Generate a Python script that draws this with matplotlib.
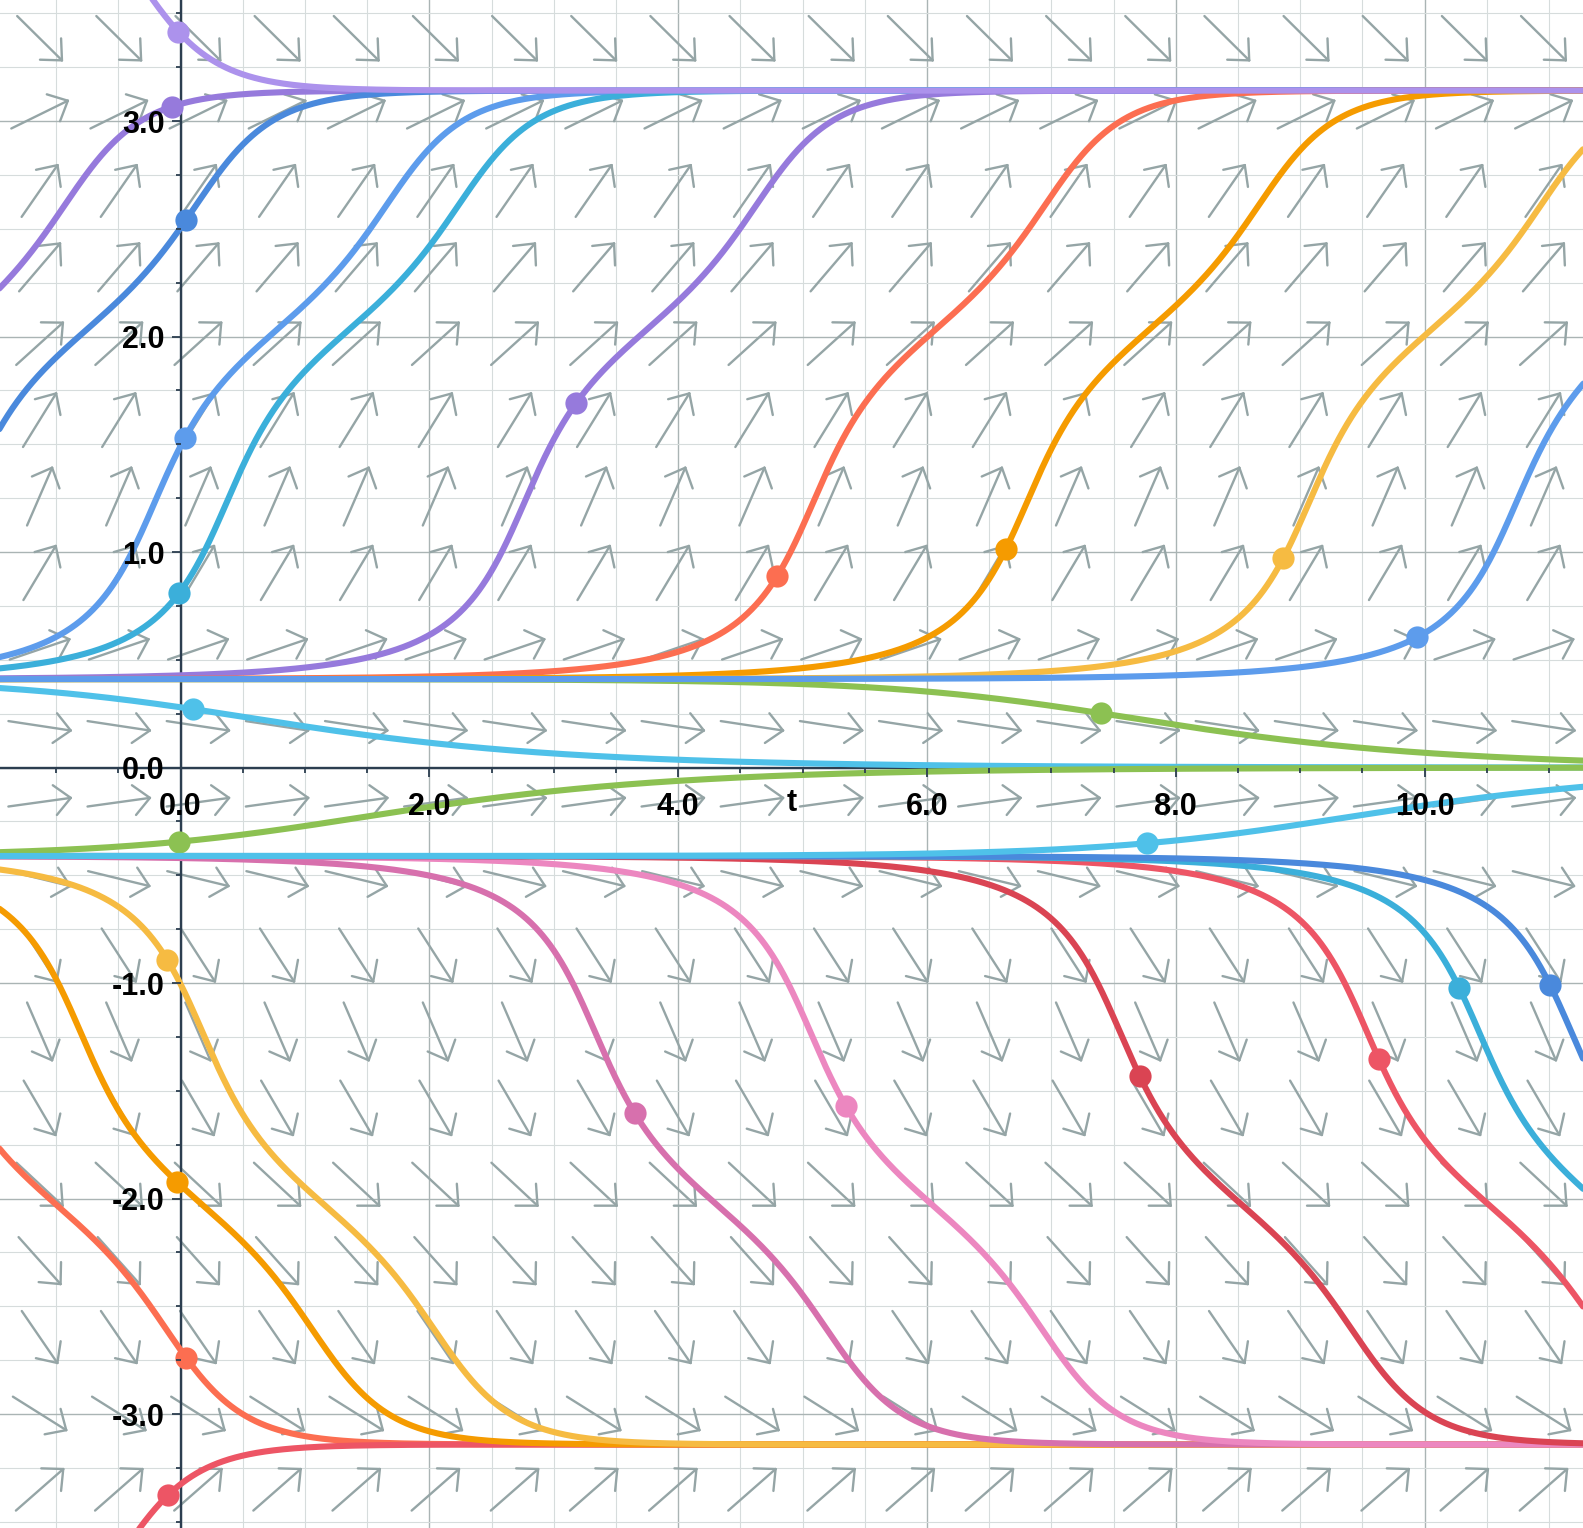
import numpy as np
import matplotlib
matplotlib.use("Agg")
import matplotlib.pyplot as plt
from matplotlib.collections import LineCollection
from matplotlib.ticker import FixedLocator, FixedFormatter, MultipleLocator

plt.rcParams["font.family"] = ["Liberation Sans", "DejaVu Sans"]
plt.rcParams["font.weight"] = "bold"

# ---- model read from the slope field: dy/dt = sin(y) - K*sin(M*y)
K = 0.4
M = 4

# ---- view window
x_min, x_max = -1.451, 11.274
y_min, y_max = -3.529, 3.562

# ---- solution curves: initial points (dots) and colours, in drawing order
dot_t = [0.044, -0.103, -0.026, -0.106, 3.651, 5.347, 7.710, 9.634, 10.28, 11.009,
         0.103, 7.400, -0.012, 7.772,
         -0.071, 0.044, 0.036, -0.012, 3.179, 4.797, 6.633, 8.864, 9.942, -0.018]
dot_y = [-2.738, -3.378, -1.924, -0.893, -1.604, -1.570, -1.431, -1.354, -1.024, -1.009,
         0.271, 0.252, -0.344, -0.351,
         3.067, 2.541, 1.531, 0.809, 1.690, 0.889, 1.013, 0.971, 0.605, 3.415]
curve_colors = ["#fc6e51", "#ed5565", "#f59b00", "#f6bb42", "#d770ad", "#ec87c0",
                "#da4453", "#ed5565", "#3bafda", "#4a89dc",
                "#4fc1e9", "#8cc152", "#8cc152", "#4fc1e9",
                "#967adc", "#4a89dc", "#5d9cec", "#3bafda", "#967adc", "#fc6e51",
                "#f59b00", "#f6bb42", "#5d9cec", "#ac92ec"]

x_tick_vals = [0, 2, 4, 6, 8, 10]
x_tick_labels = ["0.0", "2.0", "4.0", "6.0", "8.0", "10.0"]
y_tick_vals = [-3, -2, -1, 0, 1, 2, 3]
y_tick_labels = ["-3.0", "-2.0", "-1.0", "0.0", "1.0", "2.0", "3.0"]
axis_label = "t"

N_ARROWS = 20


def rhs(y):
    return np.sin(y) - K * np.sin(M * y)


def integrate(t0, y0, t_end, h=0.005):
    h = h if t_end > t0 else -h
    ts, ys = [t0], [y0]
    t, y = t0, y0
    while (t_end - t) * np.sign(h) > 0 and abs(y) < 4.5:
        k1 = rhs(y)
        k2 = rhs(y + 0.5 * h * k1)
        k3 = rhs(y + 0.5 * h * k2)
        k4 = rhs(y + h * k3)
        y = y + h * (k1 + 2 * k2 + 2 * k3 + k4) / 6.0
        t = t + h
        ts.append(t)
        ys.append(y)
    return np.array(ts), np.array(ys)


W, H = 1583, 1528
fig = plt.figure(figsize=(W / 100, H / 100), dpi=100)
ax = fig.add_axes([0, 0, 1, 1])
ax.set_xlim(x_min, x_max)
ax.set_ylim(y_min, y_max)
fig.patch.set_facecolor("white")

sx = W / (x_max - x_min)   # pixels per unit
sy = H / (y_max - y_min)

# ---- grid
minor_c, major_c = "#d6dcdc", "#aab4b4"
for gx in np.arange(-1.0, 11.5, 0.5):
    major = abs(gx / 2 - round(gx / 2)) < 1e-9
    ax.axvline(gx, color=major_c if major else minor_c, lw=1.0 if major else 0.8, zorder=0.5)
for gy in np.arange(-3.5, 3.75, 0.25):
    major = abs(gy - round(gy)) < 1e-9
    ax.axhline(gy, color=major_c if major else minor_c, lw=1.0 if major else 0.8, zorder=0.5)

# ---- slope field arrows
L, HL, HA = 63.0, 22.0, np.deg2rad(43)
segs = []
for i in range(N_ARROWS):
    xc = x_min + (i + 0.5) * (x_max - x_min) / N_ARROWS
    for j in range(N_ARROWS):
        yc = y_max - (j + 0.5) * (y_max - y_min) / N_ARROWS
        s = rhs(yc)
        v = np.array([sx, sy * s])
        u = v / np.hypot(*v)
        tail = -u * L / 2
        tip = u * L / 2
        back = -u
        heads = []
        for a in (HA, -HA):
            r = np.array([back[0] * np.cos(a) - back[1] * np.sin(a),
                          back[0] * np.sin(a) + back[1] * np.cos(a)])
            heads.append(tip + r * HL)
        to_d = lambda p: (xc + p[0] / sx, yc + p[1] / sy)
        segs.append([to_d(tail), to_d(tip)])
        segs.append([to_d(heads[0]), to_d(tip)])
        segs.append([to_d(heads[1]), to_d(tip)])
ax.add_collection(LineCollection(segs, colors="#95a5a6", linewidths=1.7, zorder=1,
                                 capstyle="round"))

# ---- axes through origin
for side in ("top", "right"):
    ax.spines[side].set_visible(False)
ax.spines["left"].set_position(("data", 0))
ax.spines["bottom"].set_position(("data", 0))
for side in ("left", "bottom"):
    ax.spines[side].set_color("#2c3e50")
    ax.spines[side].set_linewidth(1.7)
    ax.spines[side].set_zorder(2.5)

ax.xaxis.set_major_locator(FixedLocator(x_tick_vals))
ax.xaxis.set_major_formatter(FixedFormatter(x_tick_labels))
ax.xaxis.set_minor_locator(MultipleLocator(0.5))
ax.yaxis.set_major_locator(FixedLocator(y_tick_vals))
ax.yaxis.set_major_formatter(FixedFormatter(y_tick_labels))
ax.yaxis.set_minor_locator(MultipleLocator(0.25))
ax.tick_params(which="major", direction="out", length=6.5, width=1.3, color="#2c3e50",
               labelsize=22, labelcolor="black")
ax.tick_params(which="minor", direction="out", length=3.6, width=1.3, color="#2c3e50")
ax.tick_params(axis="y", which="major", pad=5.0)
ax.tick_params(axis="x", which="major", pad=11)
ax.xaxis.set_zorder(6)
ax.yaxis.set_zorder(6)

ax.text((x_min + x_max) / 2, -0.165, axis_label, ha="center", va="center",
        fontsize=22, fontweight="bold", zorder=6)

# ---- solution curves
for k, (t0, y0, c) in enumerate(zip(dot_t, dot_y, curve_colors)):
    tb, yb = integrate(t0, y0, x_min - 0.2)
    tf, yf = integrate(t0, y0, x_max + 0.2)
    tt = np.concatenate([tb[::-1], tf[1:]])
    yy = np.concatenate([yb[::-1], yf[1:]])
    ax.plot(tt, yy, color=c, lw=4.4, solid_capstyle="round", zorder=3 + 0.01 * k)
    ax.plot([t0], [y0], "o", color=c, ms=16, mec="none", zorder=3.005 + 0.01 * k)

fig.savefig("out.png", dpi=100)
